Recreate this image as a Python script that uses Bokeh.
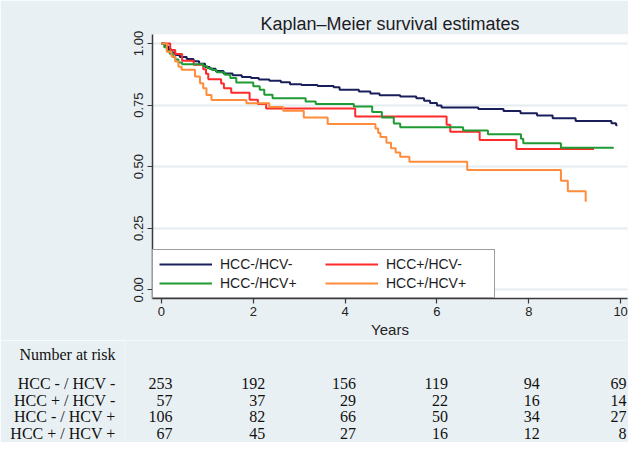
from bokeh.plotting import figure
from bokeh.models import Range1d, FixedTicker, Legend, LegendItem, ColumnDataSource
from bokeh.layouts import column
from bokeh.embed import file_html
from bokeh.resources import INLINE
from bokeh.core.properties import value

# ---------------- data ----------------
groups = ["HCC-/HCV-", "HCC+/HCV-", "HCC-/HCV+", "HCC+/HCV+"]
colors = ["#1a1f5c", "#ff2a2a", "#1f9a35", "#ff8c3a"]

t_blue = [0, 0.08, 0.15, 0.22, 0.30, 0.40, 0.55, 0.70, 0.82, 0.95, 1.05, 1.18, 1.35, 1.55,
          1.75, 1.95, 2.12, 2.35, 2.6, 2.8, 3.05, 3.4, 3.75, 3.88, 4.3, 4.55, 4.75, 5.2, 5.55,
          5.72, 5.85, 6.0, 6.1, 6.9, 7.45, 7.82, 8.18, 8.52, 9.02, 9.8, 9.9, 9.93]
s_blue = [1.0, 0.988, 0.976, 0.964, 0.953, 0.945, 0.937, 0.928, 0.918, 0.905, 0.898, 0.888,
          0.878, 0.871, 0.864, 0.86, 0.854, 0.849, 0.843, 0.835, 0.832, 0.828, 0.822, 0.812,
          0.805, 0.797, 0.79, 0.785, 0.778, 0.768, 0.758, 0.748, 0.74, 0.734, 0.726, 0.717,
          0.708, 0.697, 0.685, 0.676, 0.668, 0.668]

t_red = [0, 0.19, 0.30, 0.45, 0.70, 0.91, 0.97, 1.02, 1.30, 1.36, 1.52, 1.92, 2.10, 2.28,
         4.22, 6.21, 6.29, 6.93, 7.73, 9.42]
s_red = [1.0, 0.974, 0.957, 0.93, 0.914, 0.895, 0.877, 0.855, 0.838, 0.818, 0.80, 0.772,
         0.754, 0.736, 0.704, 0.67, 0.642, 0.608, 0.572, 0.572]

t_green = [0, 0.06, 0.12, 0.18, 0.25, 0.30, 0.37, 0.45, 0.91, 1.0, 1.1, 1.2, 1.38, 1.5, 1.63,
           2.0, 2.14, 2.24, 2.42, 3.14, 3.36, 4.19, 4.59, 4.8, 5.06, 5.2, 6.57, 7.11, 7.83,
           7.88, 8.7, 9.85]
s_green = [1.0, 0.985, 0.97, 0.958, 0.945, 0.935, 0.923, 0.916, 0.908, 0.9, 0.892, 0.883,
           0.873, 0.86, 0.842, 0.826, 0.812, 0.792, 0.778, 0.765, 0.754, 0.744, 0.722, 0.70,
           0.675, 0.66, 0.647, 0.632, 0.613, 0.595, 0.577, 0.577]

t_orange = [0, 0.115, 0.22, 0.30, 0.37, 0.44, 0.73, 0.84, 0.91, 0.98, 1.09, 1.85, 2.35, 2.65,
            3.1, 3.62, 4.66, 4.72, 4.77, 4.9, 5.0, 5.1, 5.2, 5.4, 6.66, 8.7, 8.85, 9.24]
s_orange = [1.0, 0.967, 0.947, 0.927, 0.906, 0.893, 0.866, 0.839, 0.818, 0.791, 0.771, 0.757,
            0.742, 0.727, 0.70, 0.673, 0.655, 0.637, 0.62, 0.597, 0.575, 0.557, 0.54, 0.52,
            0.486, 0.443, 0.40, 0.358]

x_ticks = [0, 2, 4, 6, 8, 10]
y_ticks = [0, 0.25, 0.5, 0.75, 1.0]
y_tick_labels = ["0.00", "0.25", "0.50", "0.75", "1.00"]

risk_title = "Number at risk"
risk_labels = ["HCC - / HCV -", "HCC + / HCV -", "HCC - / HCV +", "HCC + / HCV +"]
risk_hcc_neg_hcv_neg = [253, 192, 156, 119, 94, 69]
risk_hcc_pos_hcv_neg = [57, 37, 29, 22, 16, 14]
risk_hcc_neg_hcv_pos = [106, 82, 66, 50, 34, 27]
risk_hcc_pos_hcv_pos = [67, 45, 27, 16, 12, 8]

# ---------------- styling ----------------
BG = "#e9f0f3"
SANS = "Liberation Sans"
SERIF = "Liberation Serif"
W = 628
H1 = 340
TH = 102
FRAME_L = 152
FRAME_R_BORDER = 1
X0, X1 = -0.195, 10.15

p = figure(width=W, height=H1, output_backend="svg", toolbar_location=None,
           x_range=Range1d(X0, X1), y_range=Range1d(-0.0353, 1.0366),
           min_border_left=FRAME_L, min_border_right=FRAME_R_BORDER,
           min_border_top=34, min_border_bottom=42)
p.background_fill_color = "white"
p.border_fill_color = BG
p.outline_line_color = None

p.title.text = "Kaplan\u2013Meier survival estimates"
p.title.align = "center"
p.title.text_font = SANS
p.title.text_font_size = "18px"
p.title.text_font_style = "normal"
p.title.text_color = "#1c1c24"
p.title.standoff = 2

curves = [(t_blue, s_blue), (t_red, s_red), (t_green, s_green), (t_orange, s_orange)]
renderers = []
for (t, s), c in zip(curves, colors):
    r = p.step(t, s, mode="after", line_color=c, line_width=2)
    renderers.append(r)

p.xgrid.visible = False
p.ygrid.ticker = FixedTicker(ticks=y_ticks)
p.ygrid.grid_line_color = "#e3ecf0"
p.ygrid.grid_line_width = 2

for ax in (p.xaxis[0], p.yaxis[0]):
    ax.axis_line_color = "#3a3a3a"
    ax.axis_line_width = 1.5
    ax.major_tick_line_color = "#3a3a3a"
    ax.major_tick_line_width = 1.2
    ax.major_tick_out = 5
    ax.major_tick_in = 0
    ax.minor_tick_line_color = None
    ax.major_label_text_font = SANS
    ax.major_label_text_font_size = "13px"
    ax.major_label_text_color = "#222222"

p.xaxis.ticker = FixedTicker(ticks=x_ticks)
p.xaxis.major_label_standoff = 3
p.xaxis.axis_label = "Years"
p.xaxis.axis_label_text_font = SANS
p.xaxis.axis_label_text_font_size = "15px"
p.xaxis.axis_label_text_font_style = "normal"
p.xaxis.axis_label_text_color = "#222222"
p.xaxis.axis_label_standoff = 2

p.yaxis.ticker = FixedTicker(ticks=y_ticks)
p.yaxis.major_label_overrides = {t: l for t, l in zip(y_ticks, y_tick_labels)}
p.yaxis.major_label_orientation = "vertical"
p.yaxis.major_label_standoff = 4

# legend fills column by column: order so rows read blue|red, green|orange
legend_order = [0, 2, 1, 3]
legend = Legend(items=[LegendItem(label=groups[i], renderers=[renderers[i]]) for i in legend_order],
                location="bottom_left", ncols=2)
legend.margin = 0
legend.padding = 6
legend.spacing = 3
legend.glyph_width = 53
legend.glyph_height = 14
legend.label_width = 102
legend.label_standoff = 8
legend.label_text_font = SANS
legend.label_text_font_size = "14px"
legend.label_text_color = "#1c1c24"
legend.border_line_color = "#3a3a3a"
legend.border_line_width = 1.5
legend.background_fill_color = "white"
legend.background_fill_alpha = 1.0
p.add_layout(legend, "center")

# ---------------- number-at-risk table ----------------
can_unalign = "frame_align" in p.properties()
if can_unalign:
    T_L, T_R = 124, 0
else:
    T_L, T_R = FRAME_L, FRAME_R_BORDER
scale = (W - FRAME_L - FRAME_R_BORDER) / (X1 - X0)
t_x0 = X0 - (FRAME_L - T_L) / scale
t_x1 = X1 + (FRAME_R_BORDER - T_R) / scale

t = figure(width=W, height=TH, output_backend="svg", toolbar_location=None,
           x_range=Range1d(t_x0, t_x1), y_range=Range1d(TH, 0),
           min_border_left=T_L, min_border_right=T_R,
           min_border_top=0, min_border_bottom=0)
if can_unalign:
    p.frame_align = False
    t.frame_align = False
t.xaxis.visible = False
t.grid.visible = False
t.outline_line_color = None
t.background_fill_color = BG
t.border_fill_color = BG

title_y = 14
row_y = [43, 59.5, 76, 92.5]

# row labels (and the table heading) as the table's left-axis labels
ya = t.yaxis[0]
ya.ticker = FixedTicker(ticks=[title_y] + row_y)
ya.major_label_overrides = {y: s for y, s in zip([title_y] + row_y, [risk_title] + risk_labels)}
ya.axis_line_color = None
ya.major_tick_line_color = None
ya.minor_tick_line_color = None
ya.major_tick_out = 0
ya.major_label_standoff = T_L - 115
ya.major_label_text_font = SERIF
ya.major_label_text_font_size = "16px"
ya.major_label_text_color = "#111111"

col_offsets = [11, 12, 11, 11, 11, 6]
risk_rows = [risk_hcc_neg_hcv_neg, risk_hcc_pos_hcv_neg, risk_hcc_neg_hcv_pos, risk_hcc_pos_hcv_pos]
for ry, row in zip(row_y, risk_rows):
    src = ColumnDataSource(dict(x=x_ticks, y=[ry] * len(x_ticks), txt=[str(v) for v in row],
                                dx=col_offsets))
    t.text(x="x", y="y", text="txt", source=src, text_font=value(SERIF),
           text_font_size="16px", text_align="right", text_baseline="middle",
           x_offset="dx", text_color="#111111")

layout = column(p, t, spacing=0)
open("out.html", "w").write(file_html(layout, INLINE))
